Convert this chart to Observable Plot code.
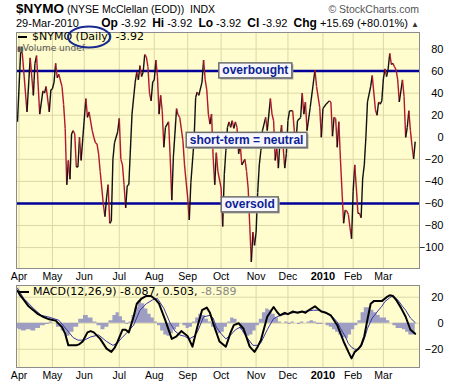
<!DOCTYPE html>
<html><head><meta charset="utf-8">
<script src="https://cdn.jsdelivr.net/npm/d3@7"></script>
<script src="https://cdn.jsdelivr.net/npm/@observablehq/plot@0.6"></script>
<style>
body{margin:0;background:#fff;font-family:"Liberation Sans",Arial,sans-serif;color:#000;}
#wrap{position:relative;width:461px;height:383px;overflow:hidden;background:#fff;}
.abs{position:absolute;white-space:nowrap;line-height:1;}
#wrap svg{position:absolute;left:0;}
</style></head><body><div id="wrap">
<div class="abs" style="left:16px;top:2px;font-size:10.5px"><b style="font-size:13.5px">$NYMO</b> (NYSE McClellan (EOD))&nbsp; INDX</div>
<div class="abs" style="right:42px;top:4px;color:#555;font-size:10.5px">© StockCharts.com</div>
<div class="abs" style="left:16px;top:18px;font-size:11px">29-Mar-2010</div>
<div class="abs" style="right:42px;top:17px;font-size:11px"><b style="font-size:12px">Op</b> -3.92 &nbsp;<b style="font-size:12px">Hi</b> -3.92 &nbsp;<b style="font-size:12px">Lo</b> -3.92 &nbsp;<b style="font-size:12px">Cl</b> -3.92 &nbsp;<b style="font-size:12px">Chg</b> +15.69 (+80.01%) <span style="font-size:8px;color:#333">▲</span></div>
</div>
<script>
// ---------- data ----------
const monthTickDays = [0, 21, 41, 63, 85, 106, 127, 149, 169, 191, 210, 229];
const monthTickLabels = ["Apr", "May", "Jun", "Jul", "Aug", "Sep", "Oct", "Nov", "Dec", "2010", "Feb", "Mar"];
const mainYTicks = [-100, -80, -60, -40, -20, 0, 20, 40, 60, 80];
const macdYTicks = [-20, 0, 20];
const bandLevels = [60, -60];

// trading-day index from 1-Apr-2009, and $NYMO value
const nymoDay = [-1,1,2,5,7,9,10,11,13,15,16,17,19,20,21,22,23,24,25,27,28,29,30,31,32,33,34,35,36,37,38,39,42,43,44,46,47,48,49,50,51,53,54,55,56,57,58,59,60,62,63,64,65,66,67,68,69,71,73,74,75,76,77,78,79,80,81,82,83,84,85,86,87,88,89,90,91,92,94,95,96,97,99,100,101,103,104,106,107,108,110,111,112,113,115,116,117,118,119,120,121,122,123,124,125,127,128,129,130,131,132,133,134,135,136,137,138,139,140,142,143,144,145,146,147,148,149,150,151,152,153,155,156,158,159,160,161,162,163,164,165,167,168,169,170,172,173,174,175,177,178,179,180,181,183,186,187,189,190,191,193,195,196,197,198,199,200,201,202,204,205,206,207,208,209,210,211,212,213,214,215,216,217,218,219,221,222,223,224,225,226,227,228,229,230,231,232,233,234,235,236,237,238,239,241,242,243,244,245,246,247,248,249];
const nymoValue = [14,77,77,23,72,38,67,74,21,42,40,46,23,43,44,50,67,54,57,46,30,8,-43,-21,-38,3,6,3,-27,-27,0,-21,35,18,23,6,0,-5,-6,-15,-31,-61,-72,-55,-43,-78,-76,-20,-5,5,17,-20,-25,-43,-64,-44,-43,21,50,59,52,65,55,59,75,73,64,40,33,50,52,70,55,21,38,24,-9,9,14,-18,-57,-18,26,20,18,-3,-25,-55,-75,-41,-3,36,41,38,50,70,52,43,21,12,21,-18,-43,-14,-31,-46,-81,-34,-12,9,14,9,15,8,14,9,-15,-6,-25,-20,-31,-46,-80,-113,-86,-98,-86,-50,-25,-12,6,18,6,35,21,15,-21,-9,-28,-3,11,-28,-15,15,24,24,6,-6,15,18,40,21,32,6,27,61,46,27,0,26,30,33,32,1,18,17,-9,14,-20,-78,-66,-67,-70,-82,-92,-49,-25,-46,-69,-69,-73,-37,-25,0,32,46,56,40,25,20,32,30,33,53,62,55,62,76,66,67,64,61,52,32,52,37,0,9,24,6,-8,-19.6,-3.92];

const macdDay = [-1,1,3,6,9,12,15,19,23,27,29,31,33,36,38,40,43,45,47,51,55,58,60,62,65,67,69,72,74,77,80,83,86,88,92,96,99,102,106,109,112,115,118,120,122,126,130,133,135,138,141,145,148,150,152,156,160,162,164,167,169,172,175,178,180,182,186,188,190,193,196,200,204,207,209,211,213,215,217,219,221,223,225,228,231,233,235,237,240,243,246,249];
const macdValue = [25,21,18,13,10,7,5,3,2,-3,-8,-17,-17,-17,-16,-14,-7,-6,-7,-12,-19.5,-22,-19,-14,-5,-5,-7,5,15,19,21,21,18,15,2,-12,-10,-6,-10,-18,-3,10,12,8,0,-14,-18,-7,-1.5,0,-4,-18,-22,-18,-13,5,12.5,9,6,8,7,9,8,9,8,10,13,11,9,8,6,-1.5,-14,-22,-27,-22,-20,-17,-10,3,15,17,17,17,20,21.5,21,18,12,5,-5,-8.087];

const signalDay = [-1,3,9,14,18,25,30,34,37,41,45,50,55,59,62,64,68,72,76,80,84,87,91,95,98,101,104,107,110,112,116,120,122,124,127,130,133,136,139,143,147,150,152,156,160,164,170,175,179,185,188,191,194,197,200,202,205,207,209,211,213,215,217,219,222,225,228,230,234,236,238,241,243,246,249];
const signalValue = [27,19,11.5,6,5,2.3,-5,-11,-13,-13,-10.5,-9,-14,-17,-15,-12,-7,-1.5,10,15,18,19,11.5,0,-6,-9,-10,-12,-10,-7,5,6,4,-3,-8,-12,-9,-5,-3,-10.5,-17,-17,-15,-5,3.6,6,7.7,8.5,9,10,10,9,7,5,1,-4,-10,-15.6,-18.5,-20,-20,-18,-12,-4,4,8.7,13,16.7,20.5,20,18,13,10,4,0.503];

const histDay = [-1,0,3,6,9,12,15,18,20,22,25,28,31,33,36,39,42,45,48,50,53,55,58,60,62,64,66,68,70,72,74,76,78,80,82,84,86,88,90,92,94,96,98,100,102,104,106,108,110,112,114,116,118,120,122,124,126,128,130,132,134,136,138,140,142,144,146,148,150,152,154,156,158,160,162,164,166,168,170,172,174,176,178,180,182,184,186,188,190,192,194,196,198,200,202,204,206,208,210,212,214,216,218,220,222,224,226,228,230,232,234,236,238,240,242,244,246,248,249];
const histValue = [-4,-5,-6,-5,-6,-4,-2,-1,1,0,-3,-6,-10,-7,-3,3,6,4,1,-2,-5,-3,2,6,8,5,2,-1,1,6,12,17,15,11,7,4,1,-2,-6,-9,-10,-8,-5,-3,0,-2,-4,-3,1,4,7,6,3,1,-3,-6,-8,-7,-3,1,4,3,-1,-5,-8,-10,-9,-6,-2,3,8,11,10,7,4,1,0,1,-1,1,0,-1,1,0,1,2,1,-1,-1,0,-2,-3,-5,-7,-9,-11,-12,-9,-5,-2,2,8,12,12,10,8,6,4,4,2,0,-2,-4,-4,-5,-7,-9,-9,-8.589];

const noteLabel = ["overbought", "short-term = neutral", "oversold"];
const noteDay = [148.5, 143, 145];
const noteValue = [60.5, -2.5, -61];

// ---------- build ----------
const FONT = '"Liberation Sans", Arial, sans-serif';
const GRID = "#dcd8a6";
const PANEL = "#fffccd";
const xDomain = [-1.6, 251.7];
const monthLabel = d => monthTickLabels[monthTickDays.indexOf(d)];

const rows = nymoDay.map((d, i) => ({day: d, v: nymoValue[i]}));
const segs = d3.pairs(rows).map(([a, b]) => ({x1: a.day, y1: a.v, x2: b.day, y2: b.v, c: b.v >= a.v ? "#111" : "#b3172d"}));
const notes = noteLabel.map((t, i) => ({t, day: noteDay[i], v: noteValue[i]}));

const main = Plot.plot({
  width: 461, height: 283, marginTop: 32, marginBottom: 15, marginLeft: 16, marginRight: 42,
  style: {background: "transparent", fontFamily: FONT, fontSize: "11px", color: "#000", overflow: "visible"},
  x: {domain: xDomain, axis: null},
  y: {domain: [-119, 95], axis: null},
  color: {type: "identity"},
  marks: [
    Plot.frame({fill: PANEL, stroke: null}),
    Plot.ruleX(monthTickDays, {stroke: GRID, strokeWidth: 1}),
    Plot.ruleY(mainYTicks, {stroke: GRID, strokeWidth: 1}),
    Plot.ruleY(bandLevels, {stroke: "#00009a", strokeWidth: 2.5}),
    Plot.link(segs, {x1: "x1", y1: "y1", x2: "x2", y2: "y2", stroke: "c", strokeWidth: 1.4}),
    Plot.text(notes, {x: "day", y: "v", text: "t", fill: "#0d1f96", fontWeight: "bold", fontSize: 12, fontFamily: FONT}),
    Plot.axisY(mainYTicks, {anchor: "right", tickSize: 0, tickPadding: 24, textAnchor: "end", fontSize: 11, label: null}),
    Plot.axisX(monthTickDays.filter(d => monthLabel(d) !== "2010"), {anchor: "bottom", tickSize: 0, tickPadding: 4, tickFormat: monthLabel, fontSize: 10.5, label: null}),
    Plot.axisX(monthTickDays.filter(d => monthLabel(d) === "2010"), {anchor: "bottom", tickSize: 0, tickPadding: 4, tickFormat: monthLabel, fontSize: 11, fontWeight: "bold", label: null}),
    Plot.frame({stroke: "#8c8c8c"})
  ]
});

const macdRows = macdDay.map((d, i) => ({day: d, v: macdValue[i]}));
const sigRows = signalDay.map((d, i) => ({day: d, v: signalValue[i]}));
const histRows = histDay.map((d, i) => ({day: d, v: histValue[i]}));

const macd = Plot.plot({
  width: 461, height: 100, marginTop: 2, marginBottom: 16, marginLeft: 16, marginRight: 42,
  style: {background: "transparent", fontFamily: FONT, fontSize: "11px", color: "#000", overflow: "visible"},
  x: {domain: xDomain, axis: null},
  y: {domain: [-34, 29], axis: null},
  marks: [
    Plot.frame({fill: PANEL, stroke: null}),
    Plot.ruleX(monthTickDays, {stroke: GRID, strokeWidth: 1}),
    Plot.ruleY(macdYTicks, {stroke: GRID, strokeWidth: 1}),
    Plot.areaY(histRows, {x: "day", y: "v", curve: "step", fill: "#9e9ec2", clip: true}),
    Plot.line(sigRows, {x: "day", y: "v", stroke: "#3535a6", strokeWidth: 1, clip: true}),
    Plot.line(macdRows, {x: "day", y: "v", stroke: "#000", strokeWidth: 2, clip: true}),
    Plot.axisY(macdYTicks, {anchor: "right", tickSize: 0, tickPadding: 24, textAnchor: "end", fontSize: 11, label: null}),
    Plot.axisX(monthTickDays.filter(d => monthLabel(d) !== "2010"), {anchor: "bottom", tickSize: 0, tickPadding: 4, tickFormat: monthLabel, fontSize: 10.5, label: null}),
    Plot.axisX(monthTickDays.filter(d => monthLabel(d) === "2010"), {anchor: "bottom", tickSize: 0, tickPadding: 4, tickFormat: monthLabel, fontSize: 11, fontWeight: "bold", label: null}),
    Plot.frame({stroke: "#8c8c8c"})
  ]
});

const wrap = document.getElementById("wrap");
main.style.top = "0px";
macd.style.top = "283px";
wrap.insertBefore(main, wrap.firstChild);
wrap.insertBefore(macd, main.nextSibling);

// boxes behind the annotation labels
const NS = "http://www.w3.org/2000/svg";
main.querySelectorAll("text").forEach(t => {
  if (!noteLabel.includes(t.textContent)) return;
  const b = t.getBBox();
  const tr = t.getAttribute("transform");
  const mk = (dx, fill, stroke) => {
    const r = document.createElementNS(NS, "rect");
    r.setAttribute("x", b.x - 3.5 + dx); r.setAttribute("y", b.y - 0.5 + dx);
    r.setAttribute("width", b.width + 7); r.setAttribute("height", b.height + 1);
    r.setAttribute("fill", fill);
    if (stroke) { r.setAttribute("stroke", stroke); r.setAttribute("stroke-width", 1.5); }
    if (tr) r.setAttribute("transform", tr);
    t.parentNode.insertBefore(r, t);
  };
  mk(1.5, "#9a9a9a", null);
  mk(0, "#f6f6fb", "#6e6e6e");
});

// in-panel legends
const add = (html, style) => { const d = document.createElement("div"); d.className = "abs"; d.setAttribute("style", style); d.innerHTML = html; wrap.appendChild(d); return d; };
add('<span style="display:inline-block;width:9px;height:2.5px;background:#000;vertical-align:middle;margin-right:5px"></span>$NYMO (Daily) -3.92', 'left:18px;top:31px;font-family:"DejaVu Sans",sans-serif;font-size:11px;line-height:11px');
add('<span style="font-size:7px;letter-spacing:-1px">▮▮</span>Volume undef', 'left:17px;top:44px;font-family:"DejaVu Sans",sans-serif;font-size:9px;line-height:9px;color:#555');
add('<span style="display:inline-block;width:10px;height:2.5px;background:#000;vertical-align:middle;margin-right:4px"></span>MACD(12,26,9) -8.087, 0.503, <span style="color:#888">-8.589</span>', 'left:19px;top:286px;font-family:"DejaVu Sans",sans-serif;font-size:11px');
const ell = document.createElementNS(NS, "svg");
ell.setAttribute("width", 50); ell.setAttribute("height", 28);
ell.setAttribute("style", "position:absolute;left:65px;top:23px;overflow:visible");
ell.innerHTML = '<ellipse cx="24" cy="14" rx="21" ry="10.5" fill="none" stroke="#1b2a8f" stroke-width="2"/>';
wrap.appendChild(ell);
</script>
</body></html>
